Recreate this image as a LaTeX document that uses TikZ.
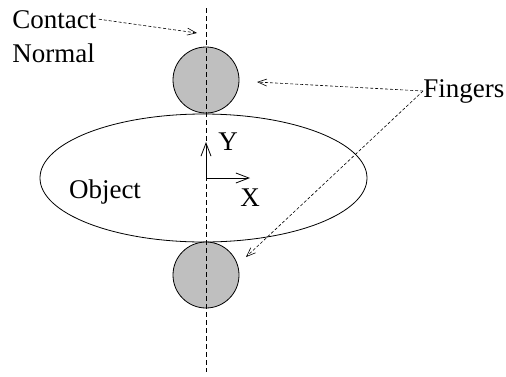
\documentclass[tikz,border=0pt]{standalone}
\usepackage{fontspec}
\setmainfont{Liberation Serif}
\usetikzlibrary{arrows.meta,positioning}

\tikzset{
  lbl/.style={font=\fontsize{27}{33}\selectfont, inner sep=0pt},
  finger/.style={draw, fill=gray!50, line width=0.8pt},
  pointer/.style={densely dashed, line width=0.6pt, -{Straight Barb[length=9pt,width=7pt]}},
}

\begin{document}
\begin{tikzpicture}[x=1pt, y=-1pt, line width=0.8pt]
    \useasboundingbox (0,0) rectangle (506,376);
    % object and fingers
    \draw (203.5,178) ellipse (163.5 and 64);
    \draw[finger] (206,80) circle (33);
    \draw[finger] (206,275) circle (33);
    % contact normal
    \coordinate (ntop) at (206,8);
    \coordinate (nbot) at (206,372);
    \draw[dash pattern=on 5pt off 3pt, line width=0.7pt] (ntop) -- (nbot);
    % frame
    \coordinate (o) at (206,178);
    \coordinate (yend) at (206,142);
    \coordinate (xend) at (250,178);
    \draw[-{Straight Barb[length=13pt,width=10pt]}] (o) -- (yend);
    \draw[-{Straight Barb[length=13pt,width=10pt]}] (o) -- (xend);
    \node[lbl] (ylab) at (228,142) {Y};
    \node[lbl] (xlab) at (250,198) {X};
    \node[lbl] (obj) at (105,192) {Object};
    % labels
    \node[lbl, anchor=base west] (contact) at (12,28) {Contact};
    \node[lbl, anchor=base west] (normal) at (12,62) {Normal};
    \node[lbl, anchor=west] (fingers) at (423,91) {Fingers};
    \coordinate (cn) at (197,33);
    \coordinate (f1) at (257,82);
    \coordinate (f2) at (246,257);
    \draw[pointer] ([xshift=2pt]contact.east) -- (cn);
    \draw[pointer] (fingers.west) -- (f1);
    \draw[pointer] (fingers.west) -- (f2);
\end{tikzpicture}
\end{document}
